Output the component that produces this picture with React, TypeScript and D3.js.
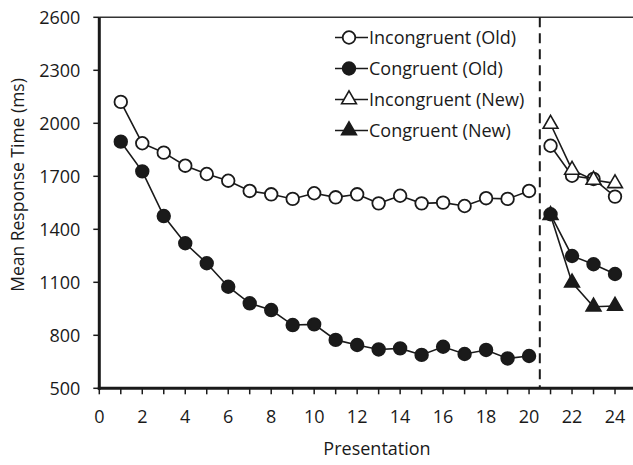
import React, { useEffect, useRef } from 'react';
import * as d3 from 'd3';

// Presentation numbers
const oldX = d3.range(1, 25);
const newX = [21, 22, 23, 24];

// Mean response time (ms)
const incongruentOld = [2121, 1887, 1834, 1760, 1713, 1675, 1617, 1598, 1572, 1604, 1581, 1598, 1547, 1590, 1547, 1551, 1532, 1576, 1572, 1617, 1873, 1703, 1685, 1585];
const congruentOld = [1896, 1728, 1475, 1321, 1208, 1075, 981, 943, 858, 862, 774, 745, 720, 726, 689, 735, 694, 717, 669, 683, 1485, 1249, 1202, 1147];
const incongruentNew = [1996, 1736, 1679, 1660];
const congruentNew = [1480, 1098, 962, 966];

const yTicks = [500, 800, 1100, 1400, 1700, 2000, 2300, 2600];
const xTicks = [0, 2, 4, 6, 8, 10, 12, 14, 16, 18, 20, 22, 24];

const legendItems = [
  { label: 'Incongruent (Old)', shape: 'circle', fill: '#fff' },
  { label: 'Congruent (Old)', shape: 'circle', fill: '#1a1a1a' },
  { label: 'Incongruent (New)', shape: 'triangle', fill: '#fff' },
  { label: 'Congruent (New)', shape: 'triangle', fill: '#1a1a1a' },
];

const App = () => {
  const ref = useRef<SVGSVGElement>(null);

  useEffect(() => {
    const svg = d3.select(ref.current);
    svg.selectAll('*').remove();

    const font = '"Open Sans", "Noto Sans", sans-serif';
    const ink = '#1a1a1a';
    const x = d3.scaleLinear().domain([0, 25]).range([99.3, 636.5]);
    const y = d3.scaleLinear().domain([500, 2600]).range([388.3, 17.3]);

    // top border (thin)
    svg.append('line')
      .attr('x1', x(0)).attr('x2', 640)
      .attr('y1', y(2600)).attr('y2', y(2600))
      .attr('stroke', '#333').attr('stroke-width', 1.5);

    // y axis
    svg.append('line')
      .attr('x1', x(0)).attr('x2', x(0))
      .attr('y1', y(2600)).attr('y2', y(500) + 1.5)
      .attr('stroke', ink).attr('stroke-width', 3);
    yTicks.forEach(t => {
      svg.append('line')
        .attr('x1', x(0) - 6).attr('x2', x(0))
        .attr('y1', y(t)).attr('y2', y(t))
        .attr('stroke', ink).attr('stroke-width', 1.5);
      svg.append('text')
        .attr('x', x(0) - 19).attr('y', y(t))
        .attr('dy', '0.35em')
        .attr('text-anchor', 'end')
        .attr('font-family', font).attr('font-size', 18)
        .attr('fill', ink)
        .text(t);
    });

    // x axis
    svg.append('line')
      .attr('x1', x(0) - 1.5).attr('x2', 640)
      .attr('y1', y(500)).attr('y2', y(500))
      .attr('stroke', ink).attr('stroke-width', 3);
    d3.range(0, 25).forEach(t => {
      svg.append('line')
        .attr('x1', x(t)).attr('x2', x(t))
        .attr('y1', y(500)).attr('y2', y(500) + 6)
        .attr('stroke', ink).attr('stroke-width', 1.5);
    });
    xTicks.forEach(t => {
      svg.append('text')
        .attr('x', x(t)).attr('y', y(500) + 28)
        .attr('dy', '0.35em')
        .attr('text-anchor', 'middle')
        .attr('font-family', font).attr('font-size', 18)
        .attr('fill', ink)
        .text(t);
    });

    // axis titles
    svg.append('text')
      .attr('x', 377).attr('y', 455)
      .attr('text-anchor', 'middle')
      .attr('font-family', font).attr('font-size', 18)
      .attr('fill', ink)
      .text('Presentation');
    svg.append('text')
      .attr('transform', 'translate(24, 185) rotate(-90)')
      .attr('text-anchor', 'middle')
      .attr('font-family', font).attr('font-size', 17.5)
      .attr('fill', ink)
      .text('Mean Response Time (ms)');

    // dashed separator
    svg.append('line')
      .attr('x1', x(20.5)).attr('x2', x(20.5))
      .attr('y1', y(2600)).attr('y2', y(500))
      .attr('stroke', ink).attr('stroke-width', 2)
      .attr('stroke-dasharray', '10,6');

    const line = d3.line<[number, number]>().x(d => x(d[0])).y(d => y(d[1]));
    const tri = d3.symbol().type(d3.symbolTriangle).size(95);

    const drawSeries = (xs: number[], ys: number[], shape: string, fill: string) => {
      const pts = xs.map((v, i) => [v, ys[i]] as [number, number]);
      const segs = [pts.filter(p => p[0] <= 20), pts.filter(p => p[0] >= 21)];
      segs.forEach(s => {
        if (s.length < 2) return;
        svg.append('path').attr('d', line(s)).attr('fill', 'none')
          .attr('stroke', ink).attr('stroke-width', 1.6);
      });
      pts.forEach(p => {
        if (shape === 'circle') {
          svg.append('circle').attr('cx', x(p[0])).attr('cy', y(p[1])).attr('r', 6.3)
            .attr('fill', fill).attr('stroke', ink).attr('stroke-width', 1.8);
        } else {
          svg.append('path').attr('d', tri())
            .attr('transform', `translate(${x(p[0])},${y(p[1])})`)
            .attr('fill', fill).attr('stroke', ink).attr('stroke-width', 1.6);
        }
      });
    };

    drawSeries(oldX, incongruentOld, 'circle', '#fff');
    drawSeries(newX, incongruentNew, 'triangle', '#fff');
    drawSeries(oldX, congruentOld, 'circle', ink);
    drawSeries(newX, congruentNew, 'triangle', ink);

    // legend
    legendItems.forEach((item, i) => {
      const ly = 37.5 + i * 31;
      const g = svg.append('g').attr('transform', `translate(349, ${ly})`);
      g.append('line').attr('x1', -14).attr('x2', 19).attr('y1', 0).attr('y2', 0)
        .attr('stroke', ink).attr('stroke-width', 1.6);
      if (item.shape === 'circle') {
        g.append('circle').attr('r', 6.3).attr('fill', item.fill)
          .attr('stroke', ink).attr('stroke-width', 1.8);
      } else {
        g.append('path').attr('d', tri()).attr('fill', item.fill)
          .attr('stroke', ink).attr('stroke-width', 1.6);
      }
      g.append('text').attr('x', 20).attr('dy', '0.35em')
        .attr('font-family', font).attr('font-size', 18)
        .attr('fill', ink)
        .text(item.label);
    });
  }, []);

  return <svg ref={ref} width={633} height={465} style={{ position: 'absolute', left: 0, top: 0 }} />;
};

export default App;
